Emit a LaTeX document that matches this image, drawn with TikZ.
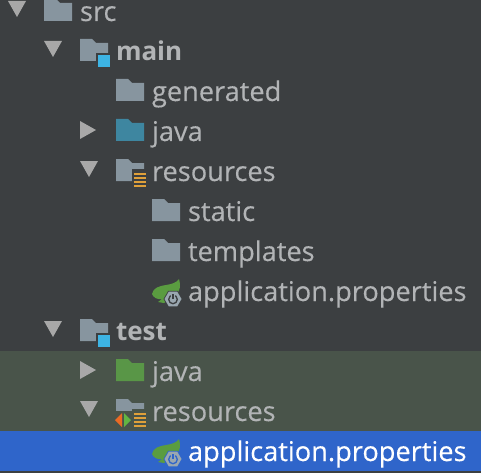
\documentclass[tikz,border=0pt]{standalone}
\usepackage{fontspec}
\setmainfont{Open Sans}[FakeBold=0.25,BoldFeatures={FakeBold=0}]
\definecolor{bgc}{HTML}{3C3F41}
\definecolor{txtc}{HTML}{B2B4B6}
\definecolor{foldc}{HTML}{87959F}
\definecolor{javac}{HTML}{3E86A0}
\definecolor{testc}{HTML}{599647}
\definecolor{bandc}{HTML}{49544A}
\definecolor{selc}{HTML}{2F65CA}
\definecolor{cyanc}{HTML}{3DB4E4}
\definecolor{orgc}{HTML}{DFA03A}
\definecolor{arrc}{HTML}{A8A8A8}
\definecolor{leafc}{HTML}{5A9C40}
\definecolor{hexc}{HTML}{9AA7B0}
\definecolor{redc}{HTML}{EA6A24}
\definecolor{grnc}{HTML}{62B543}
\tikzset{
  x=1pt,y=-1pt,
  lbl/.style={anchor=base west,inner sep=0pt,outer sep=0pt,text=txtc,font=\fontsize{27.2}{30}\selectfont},
  bld/.style={lbl,font=\fontsize{26}{30}\selectfont\bfseries},
  sel/.style={lbl,text=white},
  pics/folder/.style={code={\fill[#1] (0,0) -- (12,0) -- (16,4) -- (28,4) -- (28,22) -- (0,22) -- cycle;}},
  pics/down/.style={code={\fill[arrc] (0,0) -- (18,0) -- (9,16) -- cycle;}},
  pics/right/.style={code={\fill[arrc] (0,0) -- (16,9) -- (0,18) -- cycle;}},
  pics/cyansq/.style={code={\fill[bgc] (16,14) rectangle (30,30);\fill[cyanc] (18,16) rectangle (30,28);}},
  pics/stack/.style={code={\fill[#1] (16,10) rectangle (30,24);
     \foreach \yy in {14,18,22,26}{\fill[orgc] (18,\yy) rectangle (30,\yy+2);}}},
  pics/spring/.style={code={
     \fill[leafc] (0,15) .. controls (1,9) and (7,7) .. (14,6) .. controls (20,5) and (24,4) .. (27,0)
        .. controls (29,6) and (28,12) .. (24,16) -- (12,24) -- (6,23) -- (10,20) .. controls (5,21) and (1,18) .. (0,15) -- cycle;
     \fill[#1] (30.5,20) -- (25.75,11.8) -- (16.25,11.8) -- (11.5,20) -- (16.25,28.2) -- (25.75,28.2) -- cycle;
     \fill[hexc] (29.5,20) -- (25.25,12.7) -- (16.75,12.7) -- (12.5,20) -- (16.75,27.3) -- (25.25,27.3) -- cycle;
     \draw[#1,line width=1.3pt] (21,20.4) circle[radius=4.3];
     \fill[hexc] (19.2,14) rectangle (22.8,19);
     \draw[#1,line width=1.3pt] (21,15) -- (21,20.2);
  }}
}
\begin{document}
\begin{tikzpicture}
\useasboundingbox (0,0) rectangle (481,473);
\fill[bgc] (0,0) rectangle (481,473);
\fill[bandc] (0,351) rectangle (481,431);
\fill[selc] (0,431) rectangle (481,471);
% arrows
\pic at (8,1) {down};
\pic at (44,41) {down};
\pic at (80,121) {right};
\pic at (80,161) {down};
\pic at (44,321) {down};
\pic at (80,361) {right};
\pic at (80,401) {down};
% folders
\pic at (44,-1) {folder=foldc};
\pic at (80,39) {folder=foldc};
\pic at (80,39) {cyansq};
\pic at (116,79) {folder=foldc};
\pic at (116,119) {folder=javac};
\pic at (116,159) {folder=foldc};
\pic at (116,159) {stack=bgc};
\pic at (152,199) {folder=foldc};
\pic at (152,239) {folder=foldc};
\pic at (152,279) {spring=bgc};
\pic at (80,319) {folder=foldc};
\pic at (80,319) {cyansq};
\pic at (116,359) {folder=testc};
\pic at (116,399) {folder=foldc};
\pic at (116,399) {stack=bandc};
\fill[bandc] (113,411) rectangle (133,429);
\fill[redc] (122,413) -- (122,427) -- (115,420) -- cycle;
\fill[grnc] (124,413) -- (124,427) -- (131,420) -- cycle;
\pic at (152,439) {spring=selc};
% labels
\node[lbl] (src) at (80,21) {src};
\node[bld] (main) at (116,60.5) {main};
\node[lbl] (gen) at (152,101) {generated};
\node[lbl] (java1) at (152,141) {java};
\node[lbl] (res1) at (152,181) {resources};
\node[lbl] (stat) at (188,221) {static};
\node[lbl] (tmpl) at (188,261) {templates};
\node[lbl] (app1) at (188,301) {application.properties};
\node[bld] (test) at (116,340.5) {test};
\node[lbl] (java2) at (152,381) {java};
\node[lbl] (res2) at (152,421) {resources};
\node[sel] (app2) at (188,461) {application.properties};
\end{tikzpicture}
\end{document}
